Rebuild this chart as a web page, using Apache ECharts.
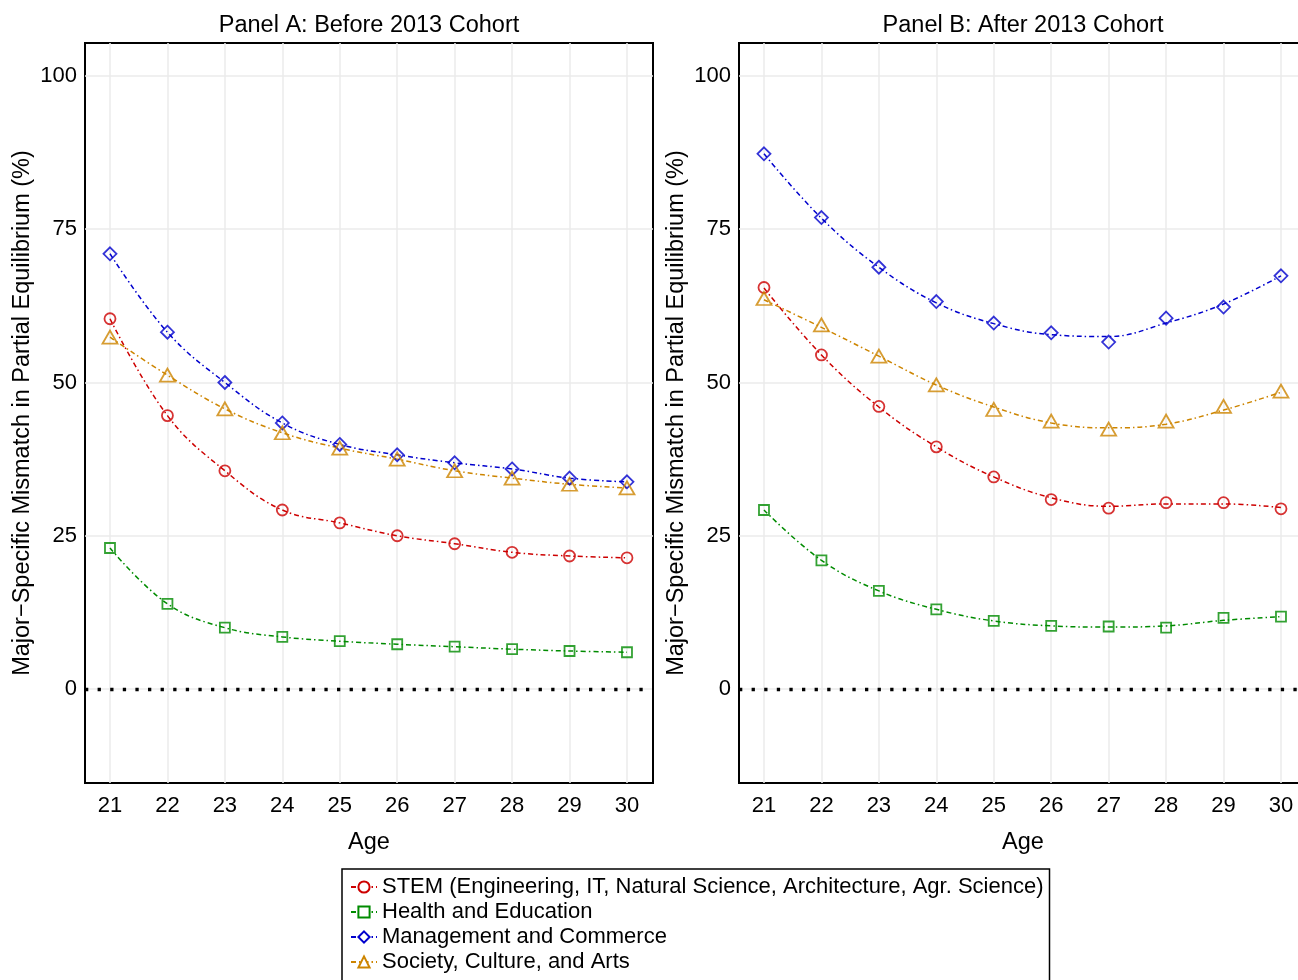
<!DOCTYPE html>
<html>
<head>
<meta charset="utf-8">
<script src="https://cdn.jsdelivr.net/npm/echarts@6/dist/echarts.min.js"></script>
<style>html,body{margin:0;padding:0;background:#fff;}#c{width:1298px;height:980px;}</style>
</head>
<body>
<div id="c"></div>
<script>
const ages = [21, 22, 23, 24, 25, 26, 27, 28, 29, 30];
const yTicks = [0, 25, 50, 75, 100];
const names = [
  'STEM (Engineering, IT, Natural Science, Architecture, Agr. Science)',
  'Health and Education',
  'Management and Commerce',
  'Society, Culture, and Arts'
];
// Panel A points
const stemA    = [60.4, 44.6, 35.6, 29.2, 27.1, 25.0, 23.7, 22.3, 21.7, 21.4];
const healthA  = [23.0, 13.9, 10.0, 8.5, 7.8, 7.3, 6.9, 6.5, 6.2, 6.0];
const mgmtA    = [71.0, 58.2, 50.0, 43.4, 39.9, 38.2, 36.9, 35.9, 34.4, 33.8];
const societyA = [57.4, 51.2, 45.7, 41.8, 39.3, 37.5, 35.6, 34.4, 33.4, 32.8];
// Panel B points
const stemB    = [65.5, 54.5, 46.1, 39.5, 34.6, 30.9, 29.5, 30.4, 30.4, 29.4];
const healthB  = [29.2, 21.0, 16.0, 13.0, 11.1, 10.3, 10.2, 10.0, 11.6, 11.8];
const mgmtB    = [87.3, 76.9, 68.8, 63.2, 59.7, 58.1, 56.6, 60.5, 62.3, 67.4];
const societyB = [63.7, 59.4, 54.3, 49.6, 45.6, 43.7, 42.4, 43.7, 46.1, 48.6];
// Panel B fitted curves
const stemFitB    = [65.4, 54.5, 46.0, 39.5, 34.6, 31.2, 29.8, 30.2, 30.2, 29.6];
const healthFitB  = [29.2, 21.0, 16.0, 13.0, 11.1, 10.3, 10.1, 10.3, 11.2, 11.8];
const mgmtFitB    = [87.3, 76.8, 68.8, 63.0, 59.6, 57.8, 57.5, 59.7, 62.8, 67.4];
const societyFitB = [63.5, 59.0, 54.3, 49.6, 46.0, 43.4, 42.6, 43.2, 45.5, 48.4];

const colors = ['#CD0000', '#008B00', '#0000CD', '#CD8500'];
const symbols = ['circle', 'rect', 'diamond', 'triangle'];
const symSizes = [11, 10, 13, [15, 13]];
const FONT = 'Liberation Sans, Arial, sans-serif';

const pts = (arr) => ages.map((a, i) => [a, arr[i]]);

const panelLines = [
  [stemA, healthA, mgmtA, societyA],
  [stemFitB, healthFitB, mgmtFitB, societyFitB]
];
const panelPts = [
  [stemA, healthA, mgmtA, societyA],
  [stemB, healthB, mgmtB, societyB]
];

const grids = [
  {left: 85, top: 43, width: 568, height: 740},
  {left: 739, top: 43, width: 568, height: 740}
];

function xAxisFor(i) {
  return {
    type: 'value', gridIndex: i, min: 20.565, max: 30.453,
    name: 'Age', nameLocation: 'middle', nameGap: 48,
    nameTextStyle: {fontFamily: FONT, fontSize: 23.5, color: '#000'},
    axisLine: {show: false},
    axisTick: {show: false, customValues: ages},
    axisLabel: {customValues: ages, fontFamily: FONT, fontSize: 22, color: '#000', margin: 12},
    splitLine: {show: true, lineStyle: {color: '#ebebeb', width: 1.5}}
  };
}
function yAxisFor(i) {
  return {
    type: 'value', gridIndex: i, min: -15.33, max: 105.38,
    name: 'Major\u2212Specific Mismatch in Partial Equilibrium (%)',
    nameLocation: 'middle', nameGap: 50,
    nameTextStyle: {fontFamily: FONT, fontSize: 23.5, color: '#000'},
    axisLine: {show: false},
    axisTick: {show: false, customValues: yTicks},
    axisLabel: {customValues: yTicks, fontFamily: FONT, fontSize: 22, color: '#000', margin: 8},
    splitLine: {show: true, lineStyle: {color: '#ebebeb', width: 1.5}}
  };
}

const series = [];
for (let p = 0; p < 2; p++) {
  for (let k = 0; k < 4; k++) {
    const s = {
      type: 'line', name: names[k], xAxisIndex: p, yAxisIndex: p,
      data: pts(panelLines[p][k]),
      smooth: 0.4, showSymbol: false, symbol: 'empty' + symbols[k][0].toUpperCase() + symbols[k].slice(1),
      color: colors[k],
      lineStyle: {color: colors[k], width: 1.5, type: [5, 3, 1.5, 3]},
      itemStyle: {color: colors[k]},
      z: 3, silent: true
    };
    if (k === 0) {
      s.markLine = {
        silent: true, symbol: 'none', label: {show: false},
        lineStyle: {color: '#000', width: 3.3, type: [3.3, 9.3], cap: 'butt'},
        emphasis: {disabled: true},
        data: [{yAxis: 0}]
      };
    }
    series.push(s);
  }
}
for (let p = 0; p < 2; p++) {
  for (let k = 0; k < 4; k++) {
    series.push({
      type: 'scatter', name: names[k], xAxisIndex: p, yAxisIndex: p,
      data: pts(panelPts[p][k]),
      symbol: symbols[k], symbolSize: symSizes[k],
      itemStyle: {color: 'rgba(0,0,0,0)', borderColor: colors[k], borderWidth: 1.8},
      z: 5, silent: true
    });
  }
}

const chart = echarts.init(document.getElementById('c'), null, {renderer: 'canvas'});
chart.setOption({
  backgroundColor: '#fff',
  animation: false,
  title: [
    {text: 'Panel A: Before 2013 Cohort', left: 364, top: 9, textAlign: 'center',
     textStyle: {fontFamily: FONT, fontSize: 23.5, fontWeight: 'normal', color: '#000'}},
    {text: 'Panel B: After 2013 Cohort', left: 1018, top: 9, textAlign: 'center',
     textStyle: {fontFamily: FONT, fontSize: 23.5, fontWeight: 'normal', color: '#000'}}
  ],
  grid: grids.map(g => Object.assign({show: true, borderColor: '#000', borderWidth: 2, backgroundColor: 'transparent', containLabel: false, outerBoundsMode: 'none'}, g)),
  xAxis: [xAxisFor(0), xAxisFor(1)],
  yAxis: [yAxisFor(0), yAxisFor(1)],
  legend: {
    data: names, orient: 'vertical', left: 342, top: 869, height: 100,
    padding: [7, 6, 8, 8], itemGap: 3, itemWidth: 26, itemHeight: 14,
    borderColor: '#000', borderWidth: 1.5, backgroundColor: '#fff',
    textStyle: {fontFamily: FONT, fontSize: 22, color: '#000', lineHeight: 22},
    selectedMode: false
  },
  series: series
});
</script>
</body>
</html>
